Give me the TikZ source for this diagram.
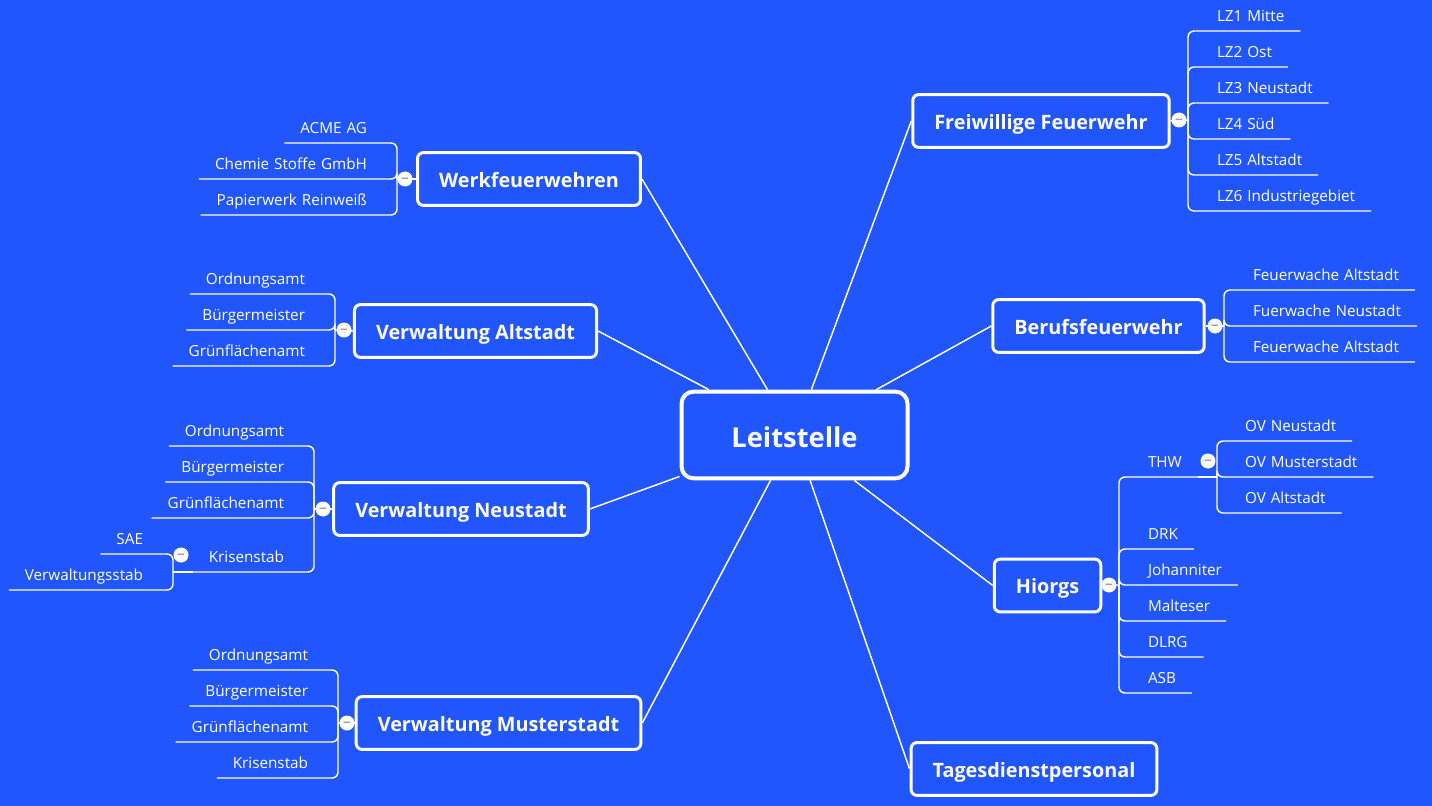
\documentclass[tikz,border=0pt]{standalone}
\usepackage{fontspec}
\setmainfont[WordSpace=1.25,BoldFeatures={WordSpace=1}]{Open Sans}
\definecolor{mapblue}{HTML}{2156FF}
\definecolor{foldgray}{HTML}{9AA0B4}
\tikzstyle{topic}=[rectangle, draw=white, line width=2.25pt, rounded corners=4.5pt, text=white, inner xsep=16.2pt, minimum height=39.6pt, text height=12.2pt, text depth=0pt, font=\fontsize{14.85}{18}\selectfont\bfseries]
\tikzstyle{central}=[topic, line width=3pt, rounded corners=9pt, minimum width=169.5pt, minimum height=65pt, text height=18.5pt, font=\fontsize{20.5}{24}\selectfont\bfseries]
\tikzstyle{leaf}=[inner xsep=12pt, inner ysep=6.85pt, outer sep=0pt, text=white, text height=8pt, text depth=0pt, font=\fontsize{11.45}{13}\selectfont]
\tikzstyle{fold}=[circle, fill=white, text=foldgray, inner sep=0pt, minimum size=11.25pt, text height=7.2pt, text depth=0pt, font=\fontsize{10}{10}\selectfont\bfseries]
\tikzstyle{spine}=[rounded corners=4.5pt, to path={|- (\tikztotarget)}]
\newcommand{\topic}{\node[topic]}
\newcommand{\rleaf}{\node[leaf, anchor=south west]}
\newcommand{\lleaf}{\node[leaf, anchor=south east]}
\newcommand{\fold}{\node[fold]}

\begin{document}
\begin{tikzpicture}[x=0.75pt, y=-0.75pt
    ,every edge/.style={draw=white, line width=1.1pt}
]
\useasboundingbox[fill=mapblue] (0,0) rectangle (1432,806);

\node[central] (leit) at (794.5,435) {Leitstelle};
\topic (fw) at (1041,121) {Freiwillige Feuerwehr};
\topic (bf) at (1098.5,326) {Berufsfeuerwehr};
\topic (hi) at (1047.5,585.5) {Hiorgs};
\topic (td) at (1034,769) {Tagesdienstpersonal};
\topic (wf) at (529,179) {Werkfeuerwehren};
\topic (va) at (475.5,331) {Verwaltung Altstadt};
\topic (vn) at (461,509) {Verwaltung Neustadt};
\topic (vm) at (498.5,723) {Verwaltung Musterstadt};

\coordinate (fwhub) at (1188,120);
\coordinate (bfhub) at (1224,326);
\coordinate (hihub) at (1119,585);
\coordinate (thwhub) at (1217,477);
\coordinate (wfhub) at (397,179);
\coordinate (vahub) at (335,330);
\coordinate (vnhub) at (314,509);
\coordinate (krhub) at (173,572);
\coordinate (vmhub) at (338,723);

\rleaf (lz1) at (1201,31) {LZ1 Mitte};
\rleaf (lz2) at (1201,67) {LZ2 Ost};
\rleaf (lz3) at (1201,103) {LZ3 Neustadt};
\rleaf (lz4) at (1201,139) {LZ4 Süd};
\rleaf (lz5) at (1201,175) {LZ5 Altstadt};
\rleaf (lz6) at (1201,211) {LZ6 Industriegebiet};

\rleaf (bf1) at (1237,290) {Feuerwache Altstadt};
\rleaf (bf2) at (1237,326) {Fuerwache Neustadt};
\rleaf (bf3) at (1237,362) {Feuerwache Altstadt};

\rleaf (thw) at (1132,477) {THW};
\rleaf (drk) at (1132,549) {DRK};
\rleaf (joh) at (1132,585) {Johanniter};
\rleaf (mal) at (1132,621) {Malteser};
\rleaf (dlrg) at (1132,657) {DLRG};
\rleaf (asb) at (1132,693) {ASB};

\rleaf (ov1) at (1229,441) {OV Neustadt};
\rleaf (ov2) at (1229,477) {OV Musterstadt};
\rleaf (ov3) at (1229,513) {OV Altstadt};

\lleaf (acme) at (383,143) {ACME AG};
\lleaf (chem) at (383,179) {Chemie Stoffe GmbH};
\lleaf (papi) at (383,215) {Papierwerk Reinweiß};

\lleaf (va1) at (321,294) {Ordnungsamt};
\lleaf (va2) at (321,330) {Bürgermeister};
\lleaf (va3) at (321,366) {Grünflächenamt};

\lleaf (vn1) at (300,446) {Ordnungsamt};
\lleaf (vn2) at (300,482) {Bürgermeister};
\lleaf (vn3) at (300,518) {Grünflächenamt};
\lleaf (vn4) at (300,572) {Krisenstab};
\lleaf (sae) at (159,554) {SAE};
\lleaf (vst) at (159,590) {Verwaltungsstab};

\lleaf (vm1) at (324,670) {Ordnungsamt};
\lleaf (vm2) at (324,706) {Bürgermeister};
\lleaf (vm3) at (324,742) {Grünflächenamt};
\lleaf (vm4) at (324,778) {Krisenstab};

\path
(leit) edge (fw.west) edge (bf.west) edge (hi.west) edge (td.west)
(leit) edge (wf.east) edge (va.east) edge (vn.east) edge (vm.east)
(fw.east) edge (fwhub)
(bf.east) edge (bfhub)
(hi.east) edge (hihub)
(wf.west) edge (wfhub)
(va.west) edge (vahub)
(vn.west) edge (vnhub)
(vm.west) edge (vmhub)
(vn4.south west) edge (krhub)
(thw.south east) edge (thwhub)
;
\path
(fwhub) edge[spine] (lz1.south east) edge[spine] (lz2.south east) edge[spine] (lz3.south east)
        edge[spine] (lz4.south east) edge[spine] (lz5.south east) edge[spine] (lz6.south east)
(bfhub) edge[spine] (bf1.south east) edge[spine] (bf2.south east) edge[spine] (bf3.south east)
(hihub) edge[spine] (thw.south east) edge[spine] (drk.south east) edge[spine] (joh.south east)
        edge[spine] (mal.south east) edge[spine] (dlrg.south east) edge[spine] (asb.south east)
(thwhub) edge[spine] (ov1.south east) edge[spine] (ov2.south east) edge[spine] (ov3.south east)
(wfhub) edge[spine] (acme.south west) edge[spine] (chem.south west) edge[spine] (papi.south west)
(vahub) edge[spine] (va1.south west) edge[spine] (va2.south west) edge[spine] (va3.south west)
(vnhub) edge[spine] (vn1.south west) edge[spine] (vn2.south west) edge[spine] (vn3.south west) edge[spine] (vn4.south west)
(krhub) edge[spine] (sae.south west) edge[spine] (vst.south west)
(vmhub) edge[spine] (vm1.south west) edge[spine] (vm2.south west) edge[spine] (vm3.south west) edge[spine] (vm4.south west)
;

\fold (fwfold) at (1179,120) {−};
\fold (bffold) at (1215,326) {−};
\fold (hifold) at (1109,585) {−};
\fold (thwfold) at (1208,461) {−};
\fold (wffold) at (405,179) {−};
\fold (vafold) at (344,330) {−};
\fold (vnfold) at (323,509) {−};
\fold (krfold) at (181,555) {−};
\fold (vmfold) at (347,723) {−};
\end{tikzpicture}
\end{document}
